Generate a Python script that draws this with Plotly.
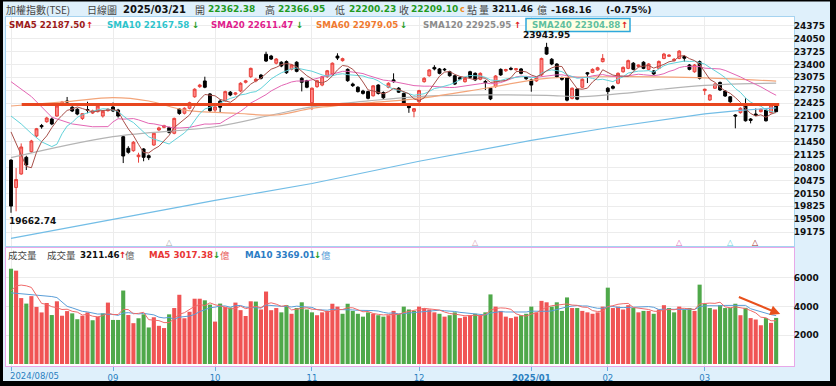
import plotly.graph_objects as go
import pandas as pd

W, H = 836, 386

# ---------------- data ----------------
month_tick_idx = [0, 20, 40, 59, 80, 102, 117, 136]
month_tick_text = ['2024/08/05', '09', '10', '11', '12', '<b>2025/01</b>', '02', '03']
price_ticks = [19175, 19500, 19825, 20150, 20475, 20800, 21125, 21450, 21775,
               22100, 22425, 22750, 23075, 23400, 23725, 24050, 24375]
volume_ticks = [2000, 4000, 6000]

opens = [20990, 20300, 20640, 21060, 21202, 21597, 21860, 21957, 22025, 22100,
         22375, 22478, 22320, 22270, 22040, 22265, 22175, 22210, 22100, 22235,
         22327, 22250, 21580, 21287, 21227, 21075, 21270, 21100, 21370, 21750,
         21815, 21805, 21665, 22275, 22170, 22295, 22585, 22840, 22983, 22655,
         22250, 22475, 22485, 22700, 22650, 22730, 22950, 23090, 22985, 23130,
         23655, 23610, 23430, 23455, 23470, 23275, 23455, 23050, 22990, 22435,
         22840, 22880, 23090, 23160, 23610, 23495, 23275, 22905, 22825, 22730,
         22715, 22610, 22880, 22690, 22825, 23010, 22800, 22670, 22350, 22220,
         22460, 22965, 23115, 23325, 23285, 23280, 23215, 23115, 23065, 22965,
         23215, 23175, 23025, 22970, 22800, 22840, 23275, 23240, 23300, 23265,
         23285, 23090, 23010, 22985, 23135, 23830, 23530, 23410, 23065, 23065,
         22545, 22780, 22825, 23190, 23200, 23260, 23470, 22800, 22845, 22925,
         23215, 23300, 23430, 23350, 23455, 23275, 23235, 23300, 23550, 23605,
         23495, 23550, 23600, 23385, 23215, 23470, 22740, 22505, 22800, 22945,
         22730, 22585, 22125, 22185, 22350, 22025, 22150, 22210, 22250, 22185,
         22362.38]
highs = [21010, 20790, 21410, 21100, 21500, 21800, 21900, 22080, 22060, 22380,
         22480, 22580, 22350, 22300, 22170, 22460, 22260, 22380, 22240, 22300,
         22440, 22280, 21600, 21340, 21470, 21175, 21290, 21130, 21690, 21830,
         21880, 21830, 22060, 22300, 22320, 22460, 22800, 22910, 23090, 22680,
         22350, 22520, 22740, 22730, 22700, 22950, 23010, 23320, 23060, 23160,
         23720, 23640, 23560, 23480, 23500, 23410, 23480, 23080, 23010, 22820,
         23010, 23110, 23260, 23450, 23680, 23570, 23300, 22940, 22850, 22760,
         22740, 22880, 22900, 22720, 22950, 23175, 22830, 22690, 22380, 22300,
         22760, 23080, 23280, 23380, 23310, 23310, 23240, 23140, 23090, 23070,
         23240, 23200, 23200, 23010, 22820, 23130, 23300, 23290, 23340, 23310,
         23310, 23110, 23040, 23090, 23570, 23943.95, 23560, 23430, 23090, 23080,
         22820, 22800, 23050, 23210, 23300, 23340, 23660, 22830, 22880, 23200,
         23350, 23520, 23460, 23400, 23480, 23430, 23260, 23500, 23690, 23660,
         23560, 23760, 23630, 23410, 23410, 23500, 22790, 22650, 22930, 22970,
         22750, 22600, 22150, 22320, 22545, 22050, 22290, 22290, 22270, 22400,
         22366.95]
lows = [19662.74, 19700, 20620, 20740, 21170, 21560, 21780, 21930, 21870, 22080,
        22350, 22420, 22200, 22120, 22000, 22170, 22150, 22190, 22060, 22210,
        22200, 22060, 20915, 21150, 21200, 20925, 20960, 20990, 21350, 21720,
        21790, 21660, 21640, 22130, 22140, 22270, 22560, 22810, 22800, 22200,
        22200, 22200, 22460, 22600, 22620, 22700, 22920, 23060, 22950, 23020,
        23460, 23510, 23400, 23330, 23160, 23250, 23200, 22720, 22800, 22250,
        22810, 22850, 23060, 23140, 23510, 23470, 22960, 22830, 22690, 22640,
        22520, 22590, 22640, 22530, 22800, 22940, 22680, 22380, 22180, 22068,
        22430, 22940, 23090, 23250, 23150, 23230, 23090, 22880, 23000, 22940,
        23050, 22980, 23000, 22755, 22500, 22810, 23110, 23210, 23250, 23240,
        23150, 23010, 22712, 22960, 23110, 23640, 23380, 23060, 22990, 22470,
        22520, 22500, 22800, 22930, 23180, 23240, 23450, 22500, 22770, 22900,
        23190, 23280, 23250, 23320, 23280, 23250, 23130, 23280, 23530, 23590,
        23470, 23530, 23470, 23250, 23190, 23020, 22630, 22480, 22780, 22730,
        22580, 22430, 21790, 22160, 21960, 21915, 22100, 22190, 21960, 22160,
        22200.23]
closes = [19830.88, 20501, 21320, 20866, 21470, 21780, 21830, 22050, 21900, 22352,
          22450, 22455, 22226, 22150, 22160, 22245, 22230, 22350, 22220, 22270,
          22226, 22100, 21093, 21186, 21440, 21115, 21060, 21050, 21665, 21800,
          21855, 21690, 22040, 22165, 22295, 22435, 22775, 22880, 22825, 22235,
          22330, 22320, 22715, 22630, 22680, 22925, 22985, 23300, 23025, 23050,
          23485, 23535, 23535, 23360, 23190, 23385, 23225, 22950, 22825, 22800,
          22990, 23090, 23240, 23430, 23560, 23545, 22990, 22865, 22715, 22670,
          22545, 22860, 22670, 22560, 22925, 22965, 22700, 22400, 22310, 22285,
          22740, 23050, 23260, 23285, 23175, 23265, 23115, 22905, 23030, 23050,
          23075, 23010, 23175, 22940, 22530, 23108, 23135, 23270, 23280, 23290,
          23175, 23040, 22880, 23065, 23550, 23660, 23410, 23090, 23025, 22500,
          22800, 22525, 23025, 23160, 23275, 23315, 23550, 22715, 22800, 23175,
          23325, 23495, 23275, 23385, 23300, 23410, 23160, 23475, 23660, 23630,
          23530, 23735, 23555, 23275, 23385, 23050, 22775, 22630, 22905, 22755,
          22605, 22460, 22100, 22295, 21980, 21990, 22120, 22270, 21980, 22377.31,
          22209.10]
volumes = [6640, 6505, 4594, 4210, 4730, 3980, 3595, 4250, 3413, 4370,
           3365, 3686, 3530, 3120, 3365, 3597, 3050, 3300, 3530, 4280,
           3070, 3070, 5120, 3413, 2846, 3187, 3460, 2546, 3256, 2662,
           2505, 3460, 3900, 4825, 3187, 3640, 4550, 4550, 4437, 4140,
           2955, 4210, 3980, 3935, 4280, 3754, 3345, 4370, 4350, 3800,
           5050, 3750, 3900, 3600, 4100, 3500, 3900, 4300, 3800, 3600,
           3400, 3600, 3700, 4200, 4000, 3500, 4200, 3700, 3500, 3300,
           3600, 3500, 3400, 3300, 3400, 3700, 3500, 4000, 3800, 3700,
           4000, 3900, 3800, 3600, 3500, 3300, 3400, 3600, 3200, 3300,
           3400, 3500, 3400, 3600, 4850, 4000, 3700, 3300, 3200, 3300,
           3400, 3500, 4000, 3600, 4400, 4300, 4000, 4300, 3700, 4640,
           3900, 3900, 3700, 3600, 3500, 3600, 4000, 5320, 3900, 4000,
           3800, 4100, 3900, 3600, 3700, 3700, 3500, 3800, 4100, 3900,
           3600, 4000, 3800, 3900, 3700, 5530, 4200, 3900, 3800, 4100,
           3900, 3900, 4200, 3400, 3914, 3200, 3100, 2700, 3200, 2865,
           3211.46]

# moving-average lead-in values (window not yet full inside the visible range)
sma5_head_idx, sma5_head = [0, 1, 2, 3], [21700, 21400, 21100, 20830]
sma10_head_idx, sma10_head = [0, 2, 4, 6, 8], [22100, 21900, 21660, 21450, 21330]
sma20_head_idx, sma20_head = [0, 4, 8, 12, 16, 18], [22965, 22590, 22070, 21900, 21830, 21830]
sma60_idx = [0, 11, 20, 27, 34, 44, 52, 59, 70, 80, 93, 105, 119, 130, 140, 150]
sma60 = [22352, 22460, 22562, 22478, 22250, 22170, 22125, 22294, 22430, 22545,
         22800, 23050, 23090, 23080, 23040, 22979.05]
sma120_idx = [0, 20, 40, 52, 59, 70, 80, 93, 105, 112, 120, 128, 136, 143, 150]
sma120 = [21050, 21580, 21830, 22150, 22330, 22480, 22590, 22630, 22620, 22590,
          22670, 22780, 22870, 22910, 22925.95]
sma240_idx = [0, 20, 40, 59, 80, 102, 117, 136, 143, 150]
sma240 = [19020, 19500, 19975, 20400, 20960, 21485, 21805, 22155, 22240, 22304.88]
vma5_head_idx, vma5_head = [0, 1, 2, 3], [5100, 5450, 5500, 5450]
vma10_head_idx, vma10_head = [0, 2, 4, 6, 8], [4960, 4900, 4850, 4800, 4700]

support_level = 22390          # hand-drawn horizontal line
support_from, support_to = 2.1, 150.6
vol_arrow_from = (142.4, 4710)
vol_arrow_to = (150.8, 3480)

# ---------------- derived ----------------
n = len(closes)
idx = list(range(n))
close_s = pd.Series(closes)
vol_s = pd.Series(volumes)


def ma_line(series, window, head_idx, head_vals):
    roll = series.rolling(window).mean()
    xs = list(head_idx) + list(range(window - 1, n))
    ys = list(head_vals) + roll.iloc[window - 1:].tolist()
    return xs, ys


prev_close = [opens[0]] + closes[:-1]
vol_colors = ['#f05454' if c >= p else '#4fa84a' for c, p in zip(closes, prev_close)]


def px(x):
    return x / W


def py(y):
    return 1 - y / H


NUM = 'DejaVu Sans'
CJK = 'Noto Sans CJK TC'

fig = go.Figure()

ma_colors = {'sma5': '#a8504a', 'sma10': '#62d2da', 'sma20': '#e366b4',
             'sma60': '#f3a57a', 'sma120': '#b4b4b4', 'sma240': '#72bde6'}

fig.add_trace(go.Scatter(x=sma240_idx, y=sma240, mode='lines',
                         line=dict(color=ma_colors['sma240'], width=1.2), xaxis='x', yaxis='y'))
fig.add_trace(go.Scatter(x=sma120_idx, y=sma120, mode='lines', line_shape='spline',
                         line=dict(color=ma_colors['sma120'], width=1.2), xaxis='x', yaxis='y'))
fig.add_trace(go.Scatter(x=sma60_idx, y=sma60, mode='lines', line_shape='spline',
                         line=dict(color=ma_colors['sma60'], width=1.2), xaxis='x', yaxis='y'))
for key, win, hi, hv in [('sma20', 20, sma20_head_idx, sma20_head),
                         ('sma10', 10, sma10_head_idx, sma10_head),
                         ('sma5', 5, sma5_head_idx, sma5_head)]:
    xs, ys = ma_line(close_s, win, hi, hv)
    fig.add_trace(go.Scatter(x=xs, y=ys, mode='lines',
                             line=dict(color=ma_colors[key], width=1), xaxis='x', yaxis='y'))

fig.add_trace(go.Candlestick(
    x=idx, open=opens, high=highs, low=lows, close=closes,
    increasing=dict(line=dict(color='#e8403a', width=1), fillcolor='#ff8585'),
    decreasing=dict(line=dict(color='#000000', width=1), fillcolor='#000000'),
    whiskerwidth=0, xaxis='x', yaxis='y', hoverinfo='skip'))

fig.add_trace(go.Bar(x=idx, y=volumes, marker=dict(color=vol_colors, line=dict(width=0)),
                     width=0.8, xaxis='x2', yaxis='y2'))
xs, ys = ma_line(vol_s, 10, vma10_head_idx, vma10_head)
fig.add_trace(go.Scatter(x=xs, y=ys, mode='lines', line=dict(color='#5a9ed8', width=1),
                         xaxis='x2', yaxis='y2'))
xs, ys = ma_line(vol_s, 5, vma5_head_idx, vma5_head)
fig.add_trace(go.Scatter(x=xs, y=ys, mode='lines', line=dict(color='#f06a6a', width=1),
                         xaxis='x2', yaxis='y2'))

xdom = [px(6), px(794)]
xrange_ = [-0.98, 153.5]

fig.update_layout(
    width=W, height=H, margin=dict(l=0, r=0, t=0, b=0),
    template='none', showlegend=False, hovermode=False,
    paper_bgcolor='#dff0fb', plot_bgcolor='#ffffff', boxgap=0.2, bargap=0.2,
    xaxis=dict(domain=xdom, range=xrange_, anchor='y', showticklabels=False,
               tickvals=month_tick_idx, showgrid=True, gridcolor='#ececec', gridwidth=1,
               showline=True, mirror=True, linecolor='#a6d3f0', linewidth=1,
               zeroline=False, ticks='', rangeslider=dict(visible=False), automargin=False),
    yaxis=dict(domain=[py(246), py(17)], range=[18826, 24594], side='right', anchor='x',
               tickvals=price_ticks, ticktext=[str(v) for v in price_ticks],
               tickfont=dict(family=NUM, size=9, color='#111', weight='bold'),
               ticklabelstandoff=-3,
               showgrid=True, gridcolor='#ececec', zeroline=False, ticks='',
               showline=True, mirror=True, linecolor='#a6d3f0', automargin=False),
    xaxis2=dict(domain=xdom, range=xrange_, anchor='y2', matches='x',
                tickvals=month_tick_idx, ticktext=[''] + month_tick_text[1:],
                tickfont=dict(family=NUM, size=8.5, color='#2a7fc0'),
                ticks='outside', ticklen=4, tickcolor='#6aaee0',
                showgrid=True, gridcolor='#ececec', zeroline=False,
                showline=True, mirror=True, linecolor='#e8a8e8', automargin=False),
    yaxis2=dict(domain=[py(366), py(248)], range=[-139, 8084], side='right', anchor='x2',
                tickvals=volume_ticks, ticktext=[str(v) for v in volume_ticks],
                tickfont=dict(family=NUM, size=9, color='#111', weight='bold'),
                ticklabelstandoff=-3,
                showgrid=True, gridcolor='#ececec', zeroline=False, ticks='',
                showline=True, mirror=True, linecolor='#e8a8e8', automargin=False),
)

shapes = []
# support line
shapes.append(dict(type='line', xref='x', yref='y', x0=support_from, x1=support_to,
                   y0=support_level, y1=support_level, line=dict(color='#e8461e', width=3)))
# SMA240 highlight box
shapes.append(dict(type='rect', xref='paper', yref='paper', x0=px(526), x1=px(630),
                   y0=py(31.5), y1=py(18.5), fillcolor='#ffffe4',
                   line=dict(color='#2ea8dc', width=1.5), layer='above'))
# black frame
for x0, x1, y0, y1 in [(0, 3, 0, 386), (830, 836, 0, 386), (0, 836, 381, 386), (0, 836, 0, 1.5)]:
    shapes.append(dict(type='rect', xref='paper', yref='paper', x0=px(x0), x1=px(x1),
                       y0=py(y1), y1=py(y0), fillcolor='#000000', line=dict(width=0),
                       layer='above'))
fig.update_layout(shapes=shapes)

ann = []


def txt(x, y, text, color, size, bold=False, family=NUM, anchor='left'):
    ann.append(dict(x=px(x), y=py(y), xref='paper', yref='paper', text=text,
                    showarrow=False, xanchor=anchor, yanchor='middle',
                    font=dict(family=family, size=size, color=color,
                              weight='bold' if bold else 'normal')))


GREEN = '#1f9a1f'
UP = '#e02020'
DN = '#1a9a1a'
# header row
y1 = 9.5
txt(4, y1, '加權指數(TSE)', '#444', 10, family=CJK)
txt(85, y1, '日線圖', '#444', 10, family=CJK)
txt(121, y1, '2025/03/21', '#111', 10, True)
txt(193, y1, '開', '#444', 10, family=CJK)
txt(206, y1, '22362.38', GREEN, 9, True)
txt(263, y1, '高', '#444', 10, family=CJK)
txt(276, y1, '22366.95', GREEN, 9, True)
txt(333, y1, '低', '#444', 10, family=CJK)
txt(347, y1, '22200.23', GREEN, 9, True)
txt(397, y1, '收', '#444', 10, family=CJK)
txt(409, y1, '22209.10', GREEN, 9, True)
txt(458, y1, 'c', '#f08a20', 8, True)
txt(465, y1, '點', '#444', 10, family=CJK)
txt(477, y1, '量', '#444', 10, family=CJK)
txt(490, y1, '3211.46', '#111', 9, True)
txt(535, y1, '億', '#444', 10, family=CJK)
txt(549, y1, '-168.16', '#111', 9.5, True)
txt(604, y1, '(-0.75%)', '#111', 9.5, True)

# SMA legend row
y2 = 25
legend = [(7, 'SMA5 22187.50', '#9c1a1a', 84, '↑', UP),
          (105, 'SMA10 22167.58', '#2ec4cc', 190, '↓', DN),
          (209, 'SMA20 22611.47', '#e0208c', 294, '↓', DN),
          (314, 'SMA60 22979.05', '#f07a30', 398, '↓', DN),
          (421, 'SMA120 22925.95', '#8c8c8c', 512, '↑', UP),
          (530, 'SMA240 22304.88', '#5fbf9e', 619, '↑', UP)]
for x, t, c, xa, a, ac in legend:
    txt(x, y2, t, c, 8.7, True)
    txt(xa, y2, a, ac, 8.5, True)

# volume legend row
y3 = 255
txt(6, y3, '成交量', '#444', 9.5, family=CJK)
txt(45, y3, '成交量', '#444', 9.5, family=CJK)
txt(78, y3, '3211.46', '#111', 8.7, True)
txt(117, y3, '↑', UP, 8.5, True)
txt(123, y3, '億', '#666', 9.5, family=CJK)
txt(147, y3, 'MA5 3017.38', '#e83535', 8.7, True)
txt(211, y3, '↓', DN, 8.5, True)
txt(218, y3, '億', '#e86060', 9.5, family=CJK)
txt(243, y3, 'MA10 3369.01', '#2c7cc4', 8.7, True)
txt(312, y3, '↓', DN, 8.5, True)
txt(319, y3, '億', '#5a9ed8', 9.5, family=CJK)

# first month label, left-aligned like the reference
txt(8, 376, month_tick_text[0], '#2a7fc0', 8.5)

# high / low labels
ann.append(dict(x=105, y=23943.95, xref='x', yref='y', text='23943.95', showarrow=False,
                yanchor='bottom', yshift=1,
                font=dict(family=NUM, size=9, color='#111', weight='bold')))
ann.append(dict(x=0, y=19662.74, xref='x', yref='y', text='19662.74', showarrow=False,
                xanchor='left', xshift=-4, yanchor='top', yshift=-1,
                font=dict(family=NUM, size=9, color='#111', weight='bold')))

# MA deduction markers
for period, col in [(5, '#9c1a1a'), (10, '#62d2da'), (20, '#e366b4'), (60, '#d59ab0'), (120, '#a8a8a8')]:
    ann.append(dict(x=n - period, y=py(242), xref='x', yref='paper', text='△', showarrow=False,
                    font=dict(family=NUM, size=8, color=col)))

# volume arrow
ann.append(dict(x=vol_arrow_to[0], y=vol_arrow_to[1], xref='x2', yref='y2',
                ax=vol_arrow_from[0], ay=vol_arrow_from[1], axref='x2', ayref='y2',
                text='', showarrow=True, arrowhead=2, arrowsize=1, arrowwidth=2,
                arrowcolor='#e8501c'))

fig.update_layout(annotations=ann)
fig.write_html('out.html', config={'displayModeBar': False},
               post_script="document.body.style.margin='0';")
